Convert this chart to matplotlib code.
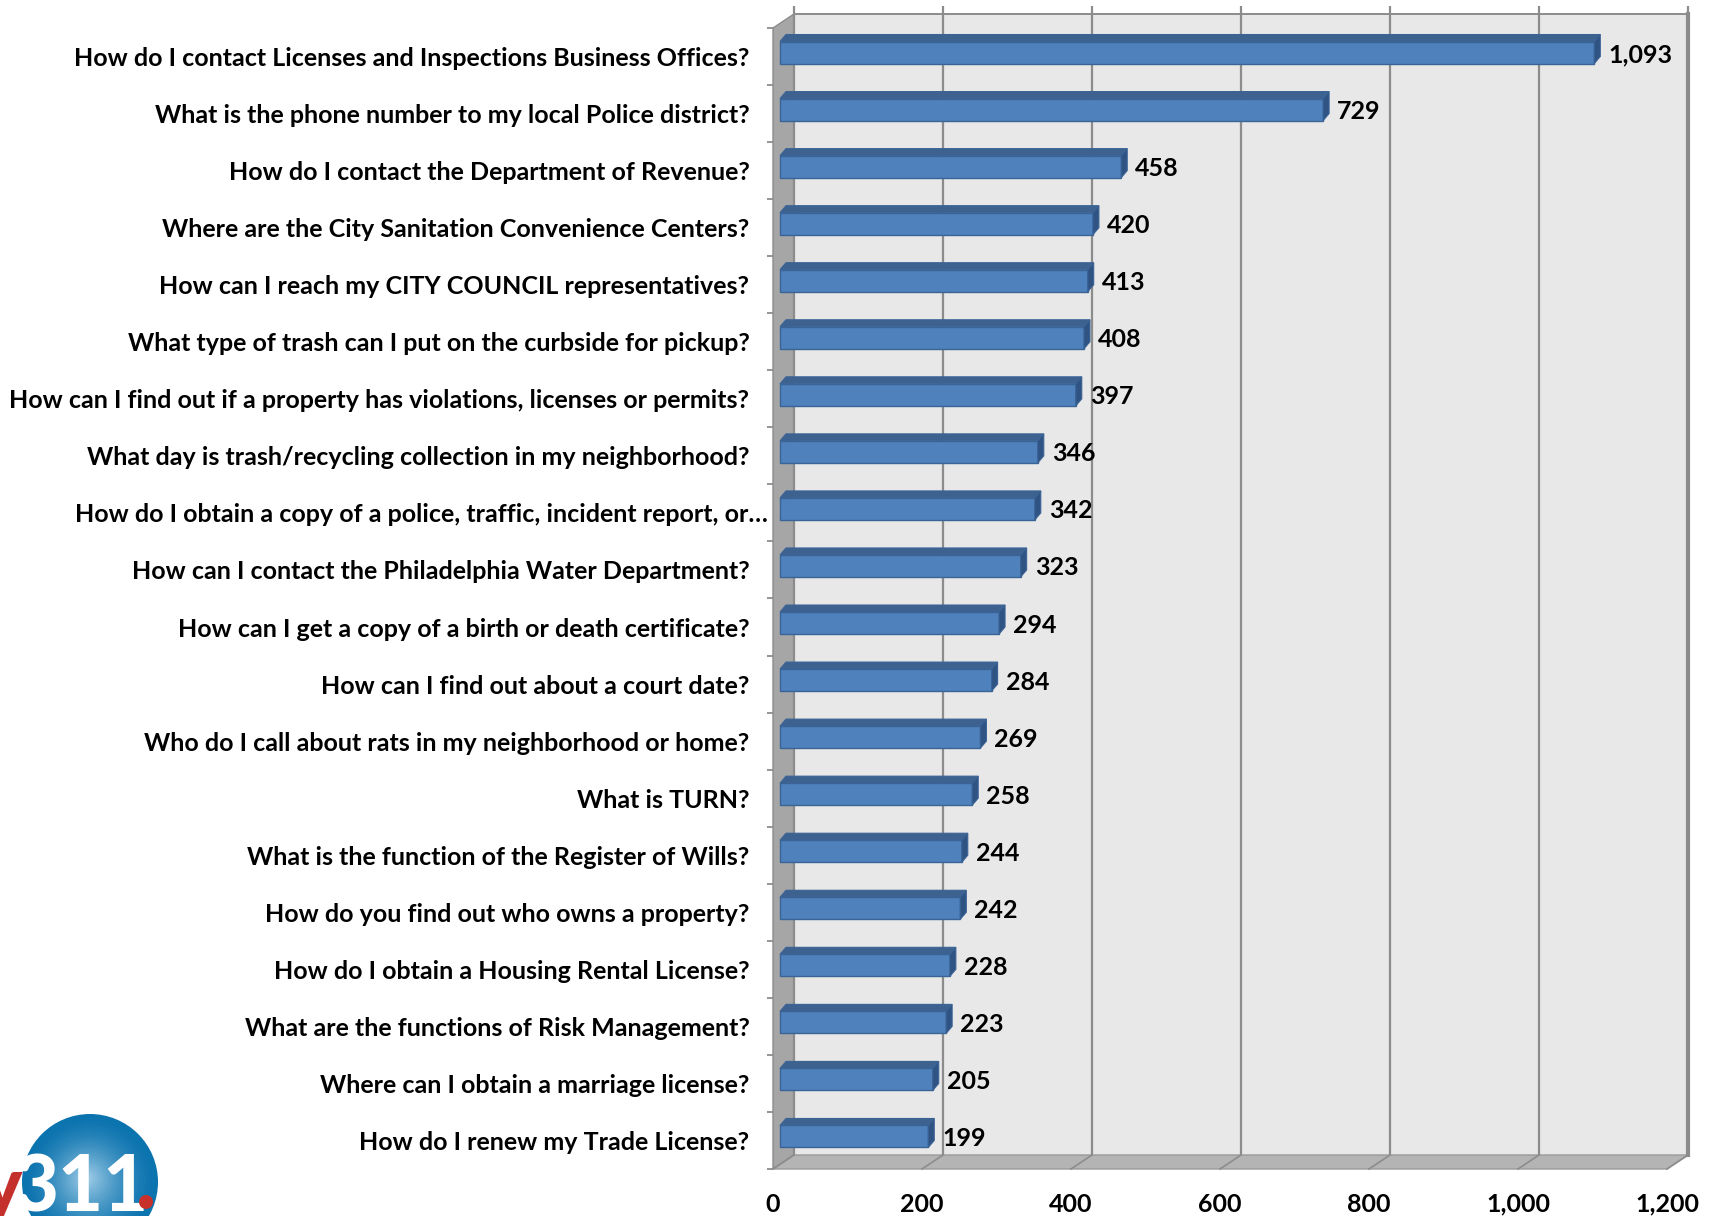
"""Top 20 Philly311 questions, Excel-style 3D horizontal bar chart."""

import matplotlib

matplotlib.use("Agg")
import matplotlib.pyplot as plt
import numpy as np
from matplotlib.colors import to_rgb
from matplotlib.patches import Circle, Polygon
from matplotlib.transforms import ScaledTranslation

questions = [
    "How do I contact Licenses and Inspections Business Offices?",
    "What is the phone number to my local Police district?",
    "How do I contact the Department of Revenue?",
    "Where are the City Sanitation Convenience Centers?",
    "How can I reach my CITY COUNCIL representatives?",
    "What type of trash can I put on the curbside for pickup?",
    "How can I find out if a property has violations, licenses or permits?",
    "What day is trash/recycling collection in my neighborhood?",
    "How do I obtain a copy of a police, traffic, incident report, or\u2026",
    "How can I contact the Philadelphia Water Department?",
    "How can I get a copy of a birth or death certificate?",
    "How can I find out about a court date?",
    "Who do I call about rats in my neighborhood or home?",
    "What is TURN?",
    "What is the function of the Register of Wills?",
    "How do you find out who owns a property?",
    "How do I obtain a Housing Rental License?",
    "What are the functions of Risk Management?",
    "Where can I obtain a marriage license?",
    "How do I renew my Trade License?",
]
counts = [1093, 729, 458, 420, 413, 408, 397, 346, 342, 323,
          294, 284, 269, 258, 244, 242, 228, 223, 205, 199]
x_ticks = [0, 200, 400, 600, 800, 1000, 1200]
x_tick_labels = ["0", "200", "400", "600", "800", "1,000", "1,200"]

FIG_W, FIG_H = 1711, 1216
# front plane of the plot box, in pixels
AX_LEFT, AX_RIGHT, AX_TOP, AX_BOTTOM = 773, 1667, 28, 1169
X_MAX = 1200
FONT_SIZE = 18

BAR_FRONT = "#4f81bd"
BAR_TOP = "#3d6290"
BAR_SIDE = "#2f5383"
BAR_EDGE = "#3a6396"
WALL = "#e8e8e8"
SIDE_WALL = "#a6a6a6"
FLOOR = "#b4b4b4"
GRID = "#8c8c8c"

plt.rcParams["font.family"] = ["Lato", "DejaVu Sans"]

n = len(counts)
px_per_x = (AX_RIGHT - AX_LEFT) / X_MAX
px_per_y = (AX_BOTTOM - AX_TOP) / n


def off(dx_px, dy_px):
    """Pixel shift (right, up) -> data shift (y axis is inverted)."""
    return dx_px / px_per_x, -dy_px / px_per_y


fig = plt.figure(figsize=(FIG_W / 100, FIG_H / 100), dpi=100)
ax = fig.add_axes([AX_LEFT / FIG_W, 1 - AX_BOTTOM / FIG_H,
                   (AX_RIGHT - AX_LEFT) / FIG_W, (AX_BOTTOM - AX_TOP) / FIG_H])
ax.set_xlim(0, X_MAX)
ax.set_ylim(n - 0.5, -0.5)
ax.patch.set_visible(False)
for s in ax.spines.values():
    s.set_visible(False)

# 3D box: back wall, left wall, floor
wdx, wdy = off(21, 14)
top, bot = -0.5, n - 0.5
ax.add_patch(Polygon([(wdx, top + wdy), (X_MAX + wdx, top + wdy),
                      (X_MAX + wdx, bot + wdy), (wdx, bot + wdy)],
                     closed=True, fc=WALL, ec="none", zorder=1, clip_on=False))
ax.add_patch(Polygon([(0, top), (wdx, top + wdy), (wdx, bot + wdy), (0, bot)],
                     closed=True, fc=SIDE_WALL, ec=GRID, lw=1, zorder=2, clip_on=False))
ax.add_patch(Polygon([(0, bot), (wdx, bot + wdy), (X_MAX + wdx, bot + wdy), (X_MAX, bot)],
                     closed=True, fc=FLOOR, ec="#9a9a9a", lw=1, zorder=2, clip_on=False))

above = off(0, 8)[1]
for t in x_ticks:
    ax.plot([t + wdx, t + wdx], [bot + wdy, top + wdy + above], color=GRID, lw=1.6,
            zorder=2, clip_on=False, solid_capstyle="butt")
    ax.plot([t, t + wdx], [bot, bot + wdy], color=GRID, lw=1.2, zorder=3, clip_on=False)
ax.plot([wdx, X_MAX + wdx], [top + wdy, top + wdy], color=GRID, lw=1.4, zorder=2, clip_on=False)
ax.plot([X_MAX + wdx] * 2, [top + wdy, bot + wdy], color=GRID, lw=3, zorder=2, clip_on=False)

# bars: front face with barh, then top and side faces
fdx, fdy = off(7, 4)
bdx, bdy = off(6, 7)
bar_h = 22 / px_per_y
y_pos = np.arange(n)
ax.barh(y_pos + fdy, counts, left=fdx, height=bar_h, color=BAR_FRONT,
        edgecolor=BAR_EDGE, lw=1, zorder=5, clip_on=False)
label_gap = off(8, 0)[0]
label_drop = off(0, -2)[1]
for i, v in enumerate(counts):
    yt = i + fdy - bar_h / 2
    x0, x1 = fdx, fdx + v
    ax.add_patch(Polygon([(x0, yt), (x1, yt), (x1 + bdx, yt + bdy), (x0 + bdx, yt + bdy)],
                         closed=True, fc=BAR_TOP, ec=BAR_EDGE, lw=0.8, zorder=5, clip_on=False))
    ax.add_patch(Polygon([(x1, yt), (x1, yt + bar_h), (x1 + bdx, yt + bar_h + bdy), (x1 + bdx, yt + bdy)],
                         closed=True, fc=BAR_SIDE, ec=BAR_EDGE, lw=0.8, zorder=5, clip_on=False))
    ax.text(x1 + bdx + label_gap, i + fdy + label_drop, f"{v:,}", ha="left", va="center",
            fontsize=FONT_SIZE, fontweight="bold", color="black", zorder=6)

# axis ticks and labels
ax.set_yticks(y_pos, labels=questions)
ax.set_yticks(np.arange(n + 1) - 0.5, minor=True)
ax.tick_params(axis="y", which="major", length=0, pad=17, labelsize=FONT_SIZE)
ax.tick_params(axis="y", which="minor", length=4.5, width=1.3, color=GRID)
for lbl in ax.get_yticklabels():
    lbl.set_fontweight("bold")
    if lbl.get_text().endswith("\u2026"):
        lbl.set_transform(lbl.get_transform() + ScaledTranslation(0.18, 0, fig.dpi_scale_trans))
ax.set_xticks(x_ticks, labels=x_tick_labels)
ax.tick_params(axis="x", length=0, pad=17, labelsize=FONT_SIZE)
for lbl in ax.get_xticklabels():
    lbl.set_fontweight("bold")

# Philly311 logo, bottom-left corner
lax = fig.add_axes([0, 0, 200 / FIG_W, 130 / FIG_H])
lax.set_xlim(0, 200)
lax.set_ylim(0, 130)
lax.set_axis_off()
edge, centre = np.array(to_rgb("#0b73ae")), np.array(to_rgb("#a7d0ea"))
steps = 40
for k in range(steps):
    f = k / steps
    col = edge + (centre - edge) * f ** 1.6
    lax.add_patch(Circle((90 - 4 * f, 34 + 4 * f), 68 * (1 - f), fc=col, ec="none", zorder=1))
lax.text(22, 4, "y", color="#c4302b", fontsize=56, fontweight="black", ha="right",
         va="baseline", zorder=2)
lax.text(14, 4, "311", color="white", fontsize=56, fontweight="black", ha="left",
         va="baseline", zorder=3)
lax.add_patch(Circle((146, 14), 7, fc="#c8312a", ec="none", zorder=4))

fig.savefig("out.png", dpi=100)
